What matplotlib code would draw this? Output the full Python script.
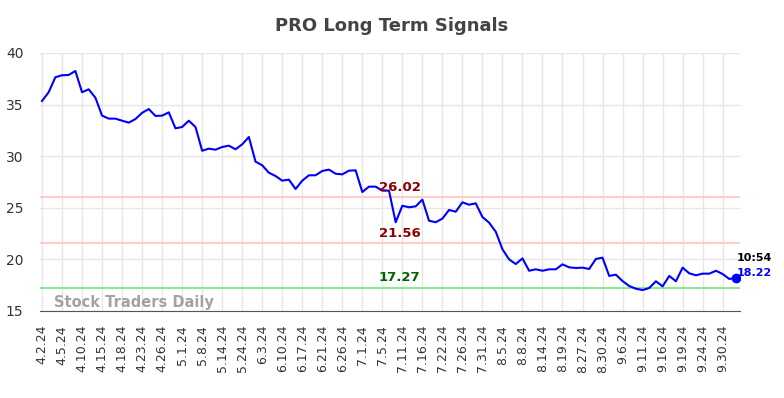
import matplotlib.pyplot as plt

# datos
valores = [35.35, 36.2, 37.65, 37.84, 37.87, 38.26, 36.2, 36.48, 35.67, 33.93,
           33.64, 33.64, 33.44, 33.25, 33.6, 34.2, 34.57, 33.9, 33.93, 34.25,
           32.7, 32.83, 33.44, 32.83, 30.53, 30.73, 30.63, 30.89, 31.02, 30.67,
           31.15, 31.86, 29.47, 29.12, 28.4, 28.08, 27.63, 27.73, 26.82, 27.63,
           28.15, 28.15, 28.57, 28.7, 28.3, 28.24, 28.6, 28.63, 26.53, 27.05,
           27.05, 26.66, 26.66, 23.6, 25.2, 25.05, 25.14, 25.79, 23.75, 23.6,
           23.95, 24.79, 24.62, 25.53, 25.3, 25.43, 24.11, 23.56, 22.68, 20.98,
           20.0, 19.55, 20.1, 18.9, 19.04, 18.9, 19.04, 19.04, 19.52, 19.23,
           19.17, 19.2, 19.07, 20.04, 20.17, 18.4, 18.52, 17.9, 17.42, 17.16,
           17.03, 17.23, 17.88, 17.39, 18.4, 17.88, 19.2, 18.65, 18.46, 18.62,
           18.62, 18.9, 18.58, 18.1, 18.22]

etiquetas = ['4.2.24', '4.5.24', '4.10.24', '4.15.24', '4.18.24', '4.23.24', '4.26.24',
             '5.1.24', '5.8.24', '5.14.24', '5.24.24', '6.3.24', '6.10.24', '6.17.24',
             '6.21.24', '6.26.24', '7.1.24', '7.5.24', '7.11.24', '7.16.24', '7.22.24',
             '7.26.24', '7.31.24', '8.5.24', '8.8.24', '8.14.24', '8.19.24', '8.27.24',
             '8.30.24', '9.6.24', '9.11.24', '9.16.24', '9.19.24', '9.24.24', '9.30.24']

niveles = [26.02, 21.56, 17.27]
colores_nivel = ['#ffcccc', '#ffcccc', '#90e890']
colores_texto = ['#8b0000', '#8b0000', '#006400']

hora = '10:54'

x = list(range(len(valores)))

fig = plt.figure(figsize=(7.84, 3.98), dpi=100)
ax = fig.add_axes([40/784, 1-311/398, 700/784, 258/398])

#lineas de soporte / resistencia
for nivel, c, ct in zip(niveles, colores_nivel, colores_texto):
    ax.axhline(nivel, color=c, lw=1.5, zorder=1)
    ax.text(53.6, nivel + 0.35, f'{nivel:.2f}', color=ct, fontsize=9.5,
            fontweight='bold', ha='center', va='bottom', zorder=4)

ax.plot(x, valores, color='#0000ff', lw=1.5, zorder=3)
ax.plot(x[-1], valores[-1], 'o', color='#0000ff', ms=6, zorder=4)

ax.text(x[-1] + 0.1, valores[-1] + 1.9, hora, color='black', fontsize=8,
        fontweight='bold', ha='left', va='center')
ax.text(x[-1] + 0.1, valores[-1] + 0.5, f'{valores[-1]:.2f}', color='#0000ff',
        fontsize=8, fontweight='bold', ha='left', va='center')

ax.text(1.8, 15.85, 'Stock Traders Daily', color='#999999', fontsize=10.5,
        fontweight='bold', ha='left', va='center', alpha=0.9)

ax.set_xlim(-0.3, 104.6)
ax.set_ylim(15, 40)
ax.set_yticks([15, 20, 25, 30, 35, 40])
ax.set_xticks(x[::3])
ax.set_xticklabels(etiquetas, rotation=90, fontsize=9)
ax.tick_params(axis='y', labelsize=10, colors='#333333', length=0, pad=12)
ax.tick_params(axis='x', length=0, pad=10, colors='#333333')
ax.grid(True, color='#e6e6e6', lw=1)
ax.set_axisbelow(True)
for s in ['top', 'right', 'left']:
    ax.spines[s].set_visible(False)
ax.spines['bottom'].set_color('#555555')

fig.suptitle('PRO Long Term Signals', x=0.5, y=1-26/398, va='center',
             fontsize=13, fontweight='bold', color='#444444')

plt.savefig('out.png', dpi=100)
